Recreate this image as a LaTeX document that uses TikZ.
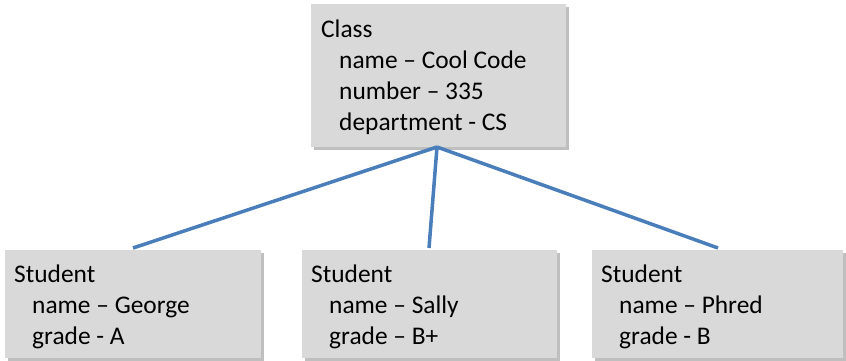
\documentclass[tikz,border=0pt]{standalone}
\usepackage{fontspec}
\setmainfont{Carlito}
\definecolor{boxfill}{HTML}{D9D9D9}
\definecolor{linkblue}{HTML}{4A7EBB}
\begin{document}
\begin{tikzpicture}[x=1pt,y=-1pt,
  box/.style={draw=none, fill=boxfill, rectangle, inner sep=0pt, anchor=north west},
  shadow/.style={fill=black, opacity=0.25},
  label/.style={inner sep=0pt, anchor=north west, align=left, font=\fontsize{25.4}{31}\selectfont},
  link/.style={draw=linkblue, line width=3.5pt}]
\useasboundingbox (0,0) rectangle (846,361);
% shadows
\fill[shadow] (314,7) rectangle (569,150);
\fill[shadow] (8,253) rectangle (264,361);
\fill[shadow] (305,253) rectangle (560,361);
\fill[shadow] (595,253) rectangle (846,361);
% boxes
\node[box, minimum width=255pt, minimum height=143pt] (cls) at (311,4) {};
\node[box, minimum width=256pt, minimum height=108pt] (s1) at (5,250) {};
\node[box, minimum width=255pt, minimum height=108pt] (s2) at (302,250) {};
\node[box, minimum width=251pt, minimum height=108pt] (s3) at (592,250) {};
% texts
\node[label] (clst) at (321,20) {Class\\\hspace*{18pt}name – Cool Code\\\hspace*{18pt}number – 335\\\hspace*{18pt}department - CS};
\node[label] (s1t) at (14,265) {Student\\\hspace*{18pt}name – George\\\hspace*{18pt}grade - A};
\node[label] (s2t) at (311,265) {Student\\\hspace*{18pt}name – Sally\\\hspace*{18pt}grade – B+};
\node[label] (s3t) at (601,265) {Student\\\hspace*{18pt}name – Phred\\\hspace*{18pt}grade - B};
% connectors
\coordinate (hub) at (437,147);
\coordinate (e1) at (133,248);
\coordinate (e2) at (429,248);
\coordinate (e3) at (718,248);
\draw[link] (hub) -- (e1);
\draw[link] (hub) -- (e2);
\draw[link] (hub) -- (e3);
\end{tikzpicture}
\end{document}
